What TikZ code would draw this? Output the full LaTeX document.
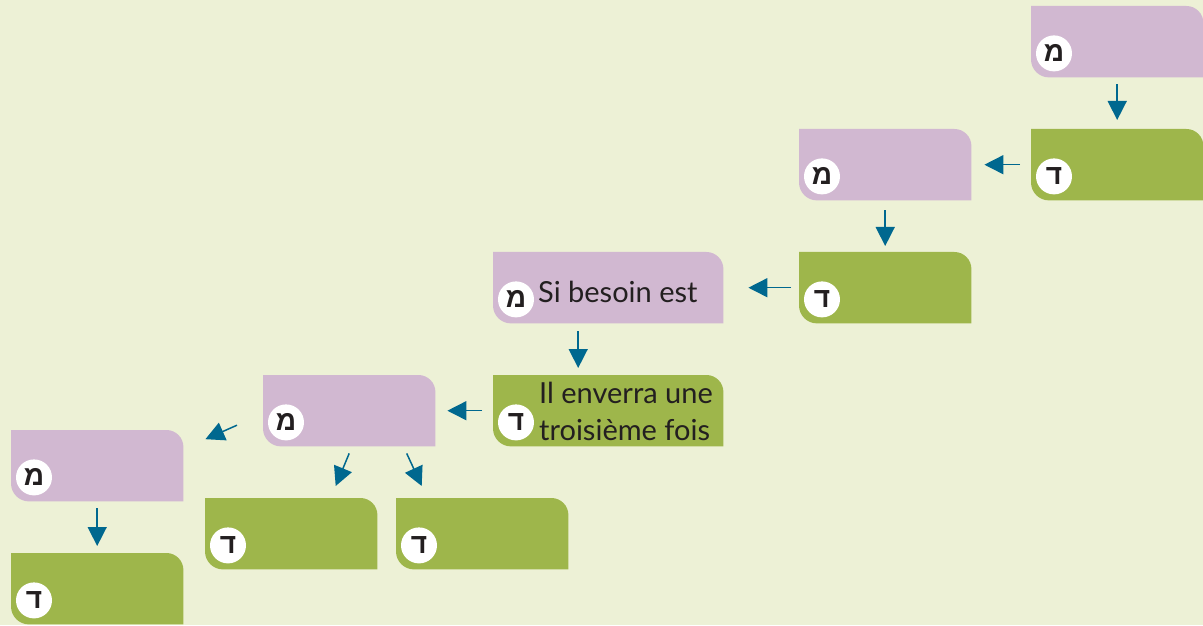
\documentclass[tikz,border=0pt]{standalone}
\usepackage{fontspec}
\setmainfont{Lato}
\newfontfamily\hebfont[Script=Hebrew]{Liberation Sans}
\usetikzlibrary{arrows.meta}
\definecolor{bgc}{HTML}{EDF1D6}
\definecolor{purp}{HTML}{D1B8D1}
\definecolor{grn}{HTML}{9EB64B}
\definecolor{arrc}{HTML}{00688F}
\definecolor{txt}{HTML}{231F20}
\tikzset{
  slot/.style={minimum height=71pt, inner sep=0pt, anchor=north west, draw=none},
  narrow/.style={slot, minimum width=172pt},
  wide/.style={slot, minimum width=230pt},
  badge/.style={circle, fill=white, minimum size=36pt, inner sep=0pt, text=txt, font=\hebfont\bfseries\fontsize{28}{28}\selectfont},
  label/.style={anchor=base west, inner sep=0pt, text=txt, font=\fontsize{29}{37}\selectfont, align=left},
  arr/.style={draw=arrc, line width=1.5pt, -{Triangle[length=19pt,width=19pt]}},
}
\newcommand\boxfill[2]{%
  \fill[#2] (#1.north west) -- ([xshift=-17pt]#1.north east) arc[start angle=90,end angle=0,radius=17pt]
   -- (#1.south east) -- ([xshift=18pt]#1.south west) arc[start angle=270,end angle=180,radius=18pt] -- cycle;}
\newcommand\mybadge[2]{\node[badge] (#1b) at ([xshift=23pt,yshift=24pt]#1.south west) {#2};}
\begin{document}
\begin{tikzpicture}[x=1pt,y=1pt]
\fill[bgc] (0,0) rectangle (1203,625);
\useasboundingbox (0,0) rectangle (1203,625);
% nodes
\node[narrow] (A) at (1031,619) {};
\node[narrow] (B) at (1031,496) {};
\node[narrow] (C) at (799,496) {};
\node[narrow] (D) at (799,373) {};
\node[wide]   (E) at (493,373) {};
\node[wide]   (F) at (493,250) {};
\node[narrow] (G) at (263,250) {};
\node[narrow] (H) at (11,195) {};
\node[narrow] (I) at (11,72) {};
\node[narrow] (J) at (205,127) {};
\node[narrow] (K) at (396,127) {};
\boxfill{A}{purp}\boxfill{B}{grn}
\boxfill{C}{purp}\boxfill{D}{grn}
\boxfill{E}{purp}\boxfill{F}{grn}
\boxfill{G}{purp}\boxfill{H}{purp}
\boxfill{I}{grn}\boxfill{J}{grn}\boxfill{K}{grn}
\mybadge{A}{מ}\mybadge{B}{ד}
\mybadge{C}{מ}\mybadge{D}{ד}
\mybadge{E}{מ}\mybadge{F}{ד}
\mybadge{G}{מ}\mybadge{H}{מ}
\mybadge{I}{ד}\mybadge{J}{ד}\mybadge{K}{ד}
\node[label] (Et) at (538,322) {Si besoin est};
\node[label] (Ft) at (539,185) {Il enverra une\\troisième fois};
% connectors
\draw[arr, shorten <=7pt, shorten >=9pt] (A.south) -- (B.north);
\draw[arr, shorten <=11pt, shorten >=13pt] (B.west) -- (C.east);
\draw[arr, shorten <=10pt, shorten >=6pt] (C.south) -- (D.north);
\draw[arr, shorten <=8pt, shorten >=25pt] (D.west) -- (E.east);
\draw[arr, shorten <=8pt, shorten >=7pt] ([xshift=-30pt]E.south) -- ([xshift=-30pt]F.north);
\draw[arr, shorten <=11pt, shorten >=12pt] (F.west) -- (G.east);
\draw[arr] ([xshift=-26pt,yshift=-14.5pt]G.west) -- ([xshift=22pt,yshift=26.5pt]H.east);
\draw[arr] ([yshift=-7pt]G.south) -- ([xshift=44.5pt,yshift=12pt]J.north);
\draw[arr] ([xshift=57.5pt,yshift=-7pt]G.south) -- ([xshift=-60.5pt,yshift=12pt]K.north);
\draw[arr, shorten <=7pt, shorten >=7pt] (H.south) -- (I.north);
\end{tikzpicture}
\end{document}
